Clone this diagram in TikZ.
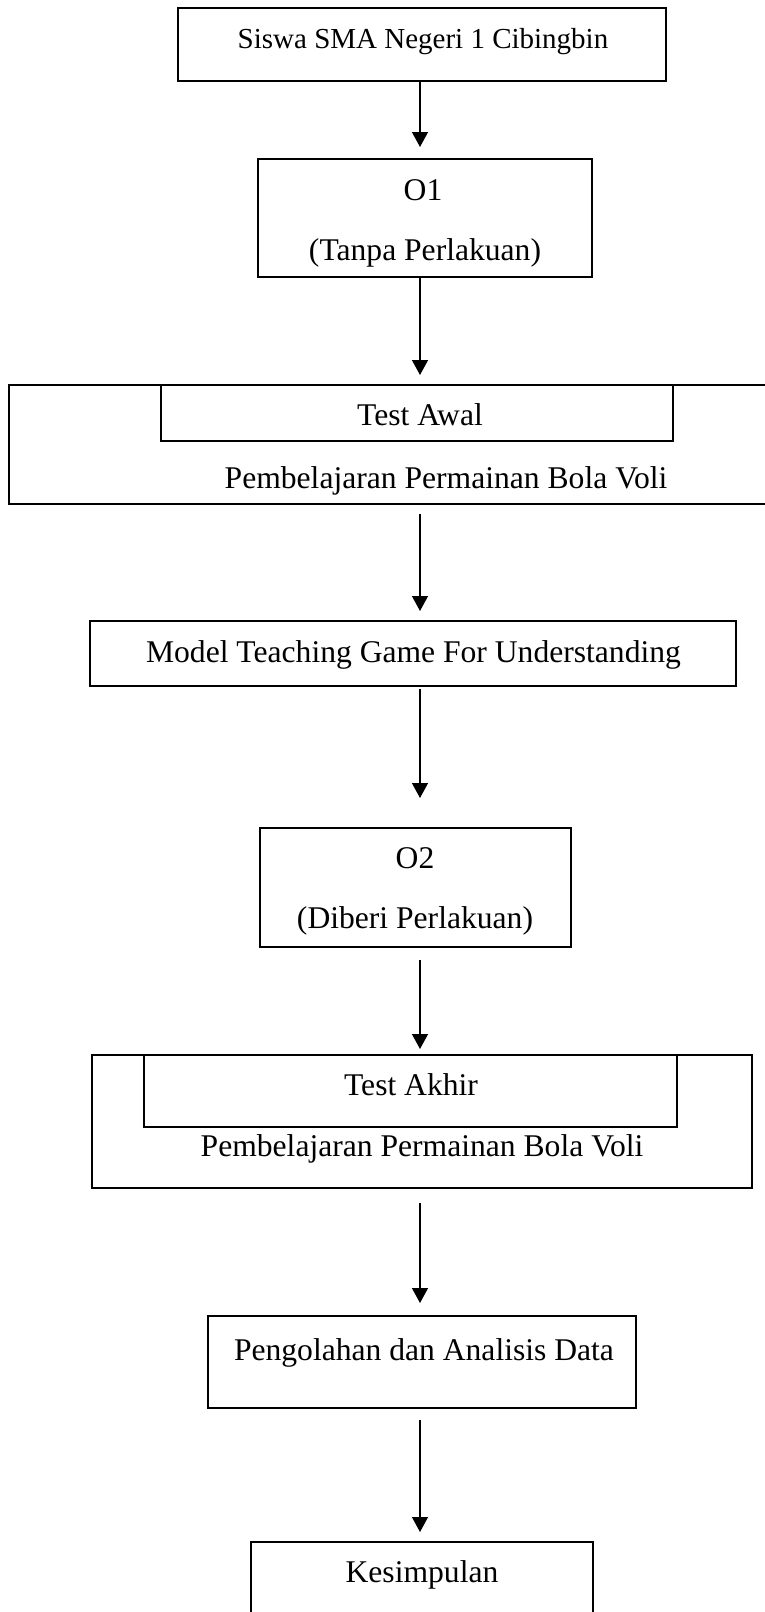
\documentclass[tikz,border=0pt]{standalone}
\usepackage{fontspec}
\setmainfont{Liberation Serif}
\usetikzlibrary{arrows.meta}

\begin{document}
\begin{tikzpicture}[x=1pt,y=-1pt,line width=2pt,
	box/.style={draw, inner sep=0pt},
	txt/.style={anchor=base, inner sep=0pt, font=\fontsize{31.6}{36}\selectfont},
	arr/.style={line width=1.3pt, -{Triangle[width=16pt,length=15pt]}}]

\useasboundingbox (0,0) rectangle (764,1612);

% Siswa
\node[box, minimum width=488pt, minimum height=73pt] (siswa) at (422,44.5) {};
\node[txt, font=\fontsize{29}{34}\selectfont] (siswatxt) at (423,48) {Siswa SMA Negeri 1 Cibingbin};

% O1
\node[box, minimum width=334pt, minimum height=118pt] (o1) at (425,218) {};
\node[txt] (o1a) at (423,200) {O1};
\node[txt] (o1b) at (425,260) {(Tanpa Perlakuan)};

% Test awal
\node[box, minimum width=771pt, minimum height=119pt] (awal) at (394.5,444.5) {};
\node[box, minimum width=512pt, minimum height=56pt] (awalin) at (417,413) {};
\node[txt] (awaltxt) at (420,425) {Test Awal};
\node[txt] (awalvoli) at (446,488) {Pembelajaran Permainan Bola Voli};

% Model TGfU
\node[box, minimum width=646pt, minimum height=65pt] (model) at (413,653.5) {};
\node[txt] (modeltxt) at (413.5,662) {Model Teaching Game For Understanding};

% O2
\node[box, minimum width=311pt, minimum height=119pt] (o2) at (415.5,887.5) {};
\node[txt] (o2a) at (415,868) {O2};
\node[txt] (o2b) at (415,928) {(Diberi Perlakuan)};

% Test akhir
\node[box, minimum width=660pt, minimum height=133pt] (akhir) at (422,1121.5) {};
\node[box, minimum width=533pt, minimum height=72pt] (akhirin) at (410.5,1091) {};
\node[txt] (akhirtxt) at (411,1095) {Test Akhir};
\node[txt] (akhirvoli) at (422,1156) {Pembelajaran Permainan Bola Voli};

% Pengolahan
\node[box, minimum width=428pt, minimum height=92pt] (olah) at (422,1362) {};
\node[txt] (olahtxt) at (424,1360) {Pengolahan dan Analisis Data};

% Kesimpulan
\node[box, minimum width=342pt, minimum height=108pt] (simpul) at (422,1596) {};
\node[txt] (simpultxt) at (422,1582) {Kesimpulan};

% Arrows
\coordinate (spine) at (420,0);
\draw[arr, shorten >=11pt] (spine |- siswa.south) -- (spine |- o1.north);
\draw[arr, shorten >=9pt] (spine |- o1.south) -- (spine |- awal.north);
\draw[arr, shorten <=9pt, shorten >=9pt] (spine |- awal.south) -- (spine |- model.north);
\draw[arr, shorten <=2pt, shorten >=29pt] (spine |- model.south) -- (spine |- o2.north);
\draw[arr, shorten <=12pt, shorten >=5pt] (spine |- o2.south) -- (spine |- akhir.north);
\draw[arr, shorten <=14pt, shorten >=12pt] (spine |- akhir.south) -- (spine |- olah.north);
\draw[arr, shorten <=11pt, shorten >=9pt] (spine |- olah.south) -- (spine |- simpul.north);

\end{tikzpicture}
\end{document}
